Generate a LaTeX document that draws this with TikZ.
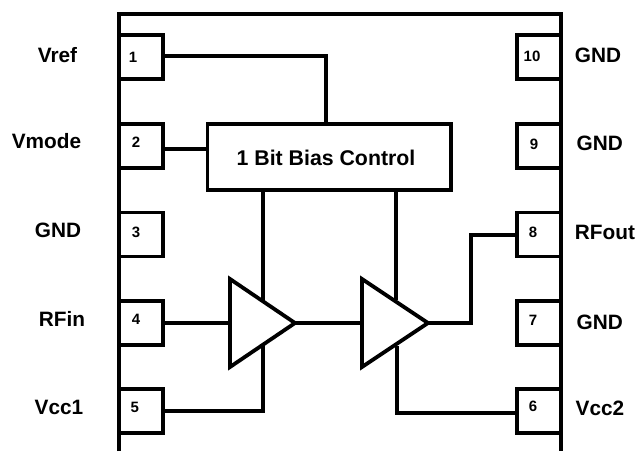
\documentclass[tikz,border=0pt]{standalone}
\usepackage{fontspec}
\setmainfont{Liberation Sans}
\usetikzlibrary{calc}
\tikzset{
  pinbox/.style={draw=black,line width=3.6pt,fill=white,inner sep=0pt,minimum width=44pt,minimum height=44pt},
  pinnum/.style={anchor=base,inner sep=0pt,font=\fontsize{15}{15}\bfseries\selectfont},
  pinname/.style={anchor=base,inner sep=0pt,font=\fontsize{20.8}{21}\bfseries\selectfont},
  ctrlbox/.style={draw=black,line width=3.8pt,inner sep=0pt,minimum width=243.5pt,minimum height=66pt},
  ctrltext/.style={anchor=base,inner sep=0pt,font=\fontsize{21.3}{22}\bfseries\selectfont},
  wire/.style={draw=black,line width=3.7pt,line join=miter},
  thinwire/.style={draw=black,line width=3.2pt},
  amp/.style={draw=black,line width=3.8pt,line join=miter,fill=white},
}
\begin{document}
\begin{tikzpicture}[x=1pt,y=-1pt]
\useasboundingbox (0,0) rectangle (638,451);
% package outline
\coordinate (olb) at (119,451);
\coordinate (olt) at (119,14);
\coordinate (ort) at (561,14);
\coordinate (orb) at (561,451);
\draw[line width=3.6pt,line join=miter] (olb) -- (olt) -- (ort) -- (orb);
% left pins
\node[pinbox] (p1) at (141,57) {};
\node[pinbox] (p2) at (141,146) {};
\node[pinbox] (p3) at (141,234.5) {};
\node[pinbox] (p4) at (141,323) {};
\node[pinbox] (p5) at (141,411) {};
% right pins
\node[pinbox] (p10) at (539,57) {};
\node[pinbox] (p9) at (539,146) {};
\node[pinbox] (p8) at (539,234.5) {};
\node[pinbox] (p7) at (539,323) {};
\node[pinbox] (p6) at (539,411) {};
% pin numbers
\node[pinnum] (n1) at (133,62) {1};
\node[pinnum] (n2) at (136,147) {2};
\node[pinnum] (n3) at (136,237) {3};
\node[pinnum] (n4) at (136,324) {4};
\node[pinnum] (n5) at (134.7,412.5) {5};
\node[pinnum] (n10) at (532,61) {10};
\node[pinnum] (n9) at (534,149) {9};
\node[pinnum] (n8) at (533,237) {8};
\node[pinnum] (n7) at (533,325) {7};
\node[pinnum] (n6) at (533,411.5) {6};
% pin names
\node[pinname] (l1) at (57.5,62) {Vref};
\node[pinname] (l2) at (46.5,148) {Vmode};
\node[pinname] (l3) at (58,237.5) {GND};
\node[pinname] (l4) at (62,326.5) {RFin};
\node[pinname] (l5) at (59,414) {Vcc1};
\node[pinname] (l10) at (598,62) {GND};
\node[pinname] (l9) at (599.7,150.5) {GND};
\node[pinname] (l8) at (605,239) {RFout};
\node[pinname] (l7) at (599.7,329) {GND};
\node[pinname] (l6) at (600,415) {Vcc2};
% bias control
\node[ctrlbox] (ctrl) at (329.3,157) {};
\node[ctrltext] (ctrllabel) at (326,165) {1 Bit Bias Control};
% amplifier vertices
\coordinate (a1t) at (230,279);
\coordinate (a1b) at (230,367);
\coordinate (a1o) at (295,323);
\coordinate (a2t) at (362,279);
\coordinate (a2b) at (362,367);
\coordinate (a2o) at (428,323);
% wires
\coordinate (vref) at (326,56);
\draw[wire] (p1.east |- vref) -- (vref) -- (vref |- ctrl.north);
\draw[thinwire] (p2.east |- 0,149) -- (ctrl.west |- 0,149);
\coordinate (b1) at (263,300);
\coordinate (b2) at (396,300);
\draw[thinwire] (b1 |- ctrl.south) -- (b1);
\draw[thinwire] (b2 |- ctrl.south) -- (b2);
\coordinate (v1c) at (263,411);
\draw[wire] (p5.east) -- (v1c) -- (263,346);
\coordinate (v2c) at (397,413);
\draw[wire] (p6.west |- v2c) -- (v2c) -- (397,346);
\draw[wire] (p4.east) -- (a1t |- p4.east);
\draw[wire] (a1o) -- (a2t |- a1o);
\coordinate (outc) at (471,323);
\coordinate (outt) at (471,235);
\draw[wire] (a2o) -- (outc) -- (outt) -- (p8.west |- outt);
% amplifiers
\draw[amp] (a1t) -- (a1o) -- (a1b) -- cycle;
\draw[amp] (a2t) -- (a2o) -- (a2b) -- cycle;
\end{tikzpicture}
\end{document}
